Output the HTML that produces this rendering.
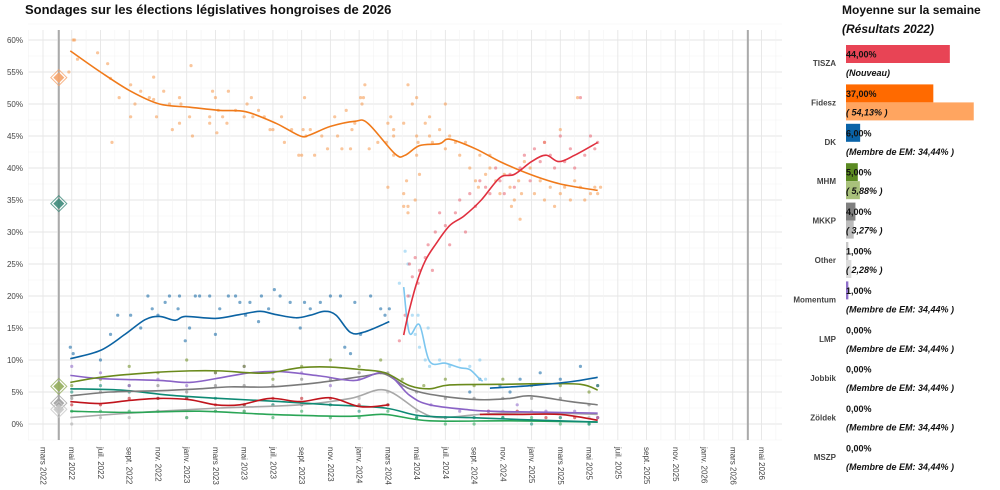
<!DOCTYPE html>
<html><head><meta charset="utf-8"><style>
html,body{margin:0;padding:0;background:#fff;}
svg{display:block;font-family:"Liberation Sans",Arial,sans-serif;}
</style></head><body>
<svg id="chart" width="1000" height="490" viewBox="0 0 1000 490">
<text x="25" y="14" font-size="13" font-weight="bold" fill="#111">Sondages sur les élections législatives hongroises de 2026</text>
<g id="grid"></g>
<g id="axes"></g>
<g id="dots"></g>
<g id="lines"></g>
<g id="marks"></g>
<g id="panel">
<text x="842" y="14" font-size="12" font-weight="bold" fill="#111">Moyenne sur la semaine</text>
<text x="842" y="33" font-size="12" font-weight="bold" font-style="italic" fill="#111">(Résultats 2022)</text>
</g>
</svg>
<script>
// ---- data (x in months since 1 March 2022, y in %) ----
const yTicks=[0,5,10,15,20,25,30,35,40,45,50,55,60];
const xTickMonths=[0,2,4,6,8,10,12,14,16,18,20,22,24,26,28,30,32,34,36,38,40,42,44,46,48,50];
const xTickLabels=["mars 2022","mai 2022","juil. 2022","sept. 2022","nov. 2022","janv. 2023","mars 2023","mai 2023","juil. 2023","sept. 2023","nov. 2023","janv. 2024","mars 2024","mai 2024","juil. 2024","sept. 2024","nov. 2024","janv. 2025","mars 2025","mai 2025","juil. 2025","sept. 2025","nov. 2025","janv. 2026","mars 2026","mai 2026"];
const electionMonths=[1.1,49.05];

const fideszLine=[[1.9,58.3],[4.0,55],[6.1,52],[8.1,50],[10.2,49.5],[12.3,49],[14.1,48.8],[16.2,47],[17.9,45],[18.6,45.2],[20.0,46.5],[21.7,47.3],[22.6,47],[24.5,42.2],[25.2,42],[26.2,43.5],[27.6,43.8],[28.3,44.5],[30.1,43],[31.8,41],[33.9,39],[36.0,37.5],[38.6,36.5]];
const tiszaLine=[[25.1,13.9],[25.4,17],[26.0,22],[26.6,25.5],[27.3,28],[28.3,31],[29.3,32.5],[30.5,35],[31.8,38.5],[32.8,39],[34.0,41],[35.0,42],[35.9,41],[37.0,42],[38.6,44]];
const dkLine=[[1.9,10.2],[4.0,11.5],[5.7,14],[7.1,16.3],[8.1,16.8],[9.2,16.2],[9.9,16.8],[12.0,16.5],[13.7,17.1],[15.1,17.6],[16.2,17.1],[17.6,16.6],[18.6,17.0],[19.6,17.6],[20.4,17.0],[21.4,14.3],[22.4,14.4],[24.1,16]];
const dk2Line=[[31.1,5.6],[34.0,6],[36.7,6.6],[38.6,7.3]];
const lightBlueLine=[[25.1,21.4],[25.5,14.2],[26.2,15.5],[26.9,9.8],[28.0,9.5],[29.0,8.8],[29.7,8.5],[30.4,7],[30.6,6.7]];
const mhmLine=[[1.9,6.5],[4.0,7.3],[7.4,8],[10.2,8.3],[12.3,8.3],[14.4,8],[15.8,8],[17.9,8.8],[20.0,8.9],[22.1,8.5],[23.8,8],[25.5,6],[26.9,5.5],[28.3,6.1],[31.8,6.2],[34.6,6.3],[37.4,6.2],[38.6,5.3]];
const momentumLine=[[1.9,7.6],[4.0,7.1],[8.1,6.8],[10.2,6.5],[12.3,7.2],[14.4,8],[16.5,8.2],[19.3,7.5],[21.7,6.8],[23.8,8],[25.5,4.5],[26.9,3],[29.7,2.2],[31.1,2],[33.2,1.9],[38.6,1.7]];
const mkkpLine=[[1.9,4.4],[4.7,5],[8.1,5.2],[10.9,5.5],[13.0,5.8],[15.8,5.8],[19.3,6.5],[22.4,7.5],[23.8,7.8],[25.5,5.5],[27.6,4.4],[30.4,3.8],[32.5,4],[33.9,4.4],[36.7,3.5],[38.6,3]];
const jobbikLine=[[1.9,5.5],[5.4,5.3],[8.8,4.5],[12.3,4],[16.5,3.5],[20.0,3],[23.8,2.5],[26.2,1.3],[29.7,1],[33.2,0.7],[38.6,0.3]];
const zoldekLine=[[1.9,2],[6.1,1.8],[10.9,2],[15.8,1.5],[21.4,1.2],[23.8,1.5],[26.9,0.5],[32.5,0.5],[38.6,0.3]];
const mszpLine=[[1.9,3.5],[4.0,3.2],[6.1,3.7],[8.1,4],[10.2,3.8],[12.0,3],[13.7,3],[15.8,4],[17.9,3.5],[20.0,4.1],[22.1,2.7],[24.1,3]];
const mszp2Line=[[30.4,1.5],[33.2,1.5],[36.0,1.5],[38.6,0.6]];
const otherLine=[[1.9,1],[4.7,1.5],[8.1,2],[12.3,2.5],[17.9,3],[21.4,4],[23.8,5.3],[26.2,2],[27.6,1],[30.4,1.5],[33.9,1.8],[38.6,1.5]];

const fideszDotX=[1.8,2.1,2.2,2.4,3.8,4.5,4.7,4.8,5.3,6.1,6.1,6.4,6.8,7.4,7.7,7.7,7.9,8.4,8.8,9.0,9.5,9.5,9.6,10.2,10.3,10.4,11.6,11.6,11.8,12.0,12.1,12.2,12.5,12.8,12.9,13.4,14.0,14.2,14.5,14.6,15.0,15.4,15.8,16.0,16.6,16.8,17.3,17.8,18.0,18.1,18.2,18.3,18.6,18.9,19.4,19.8,20.3,20.5,20.8,21.1,21.4,21.5,21.7,22.1,22.2,22.3,22.4,22.7,23.3,23.9,24.0,24.0,24.2,24.4,24.4,24.4,25.1,25.1,25.1,25.3,25.4,25.4,25.4,25.7,25.9,26.0,26.0,26.0,26.1,26.2,26.6,26.9,27.1,27.6,28.0,28.3,28.7,29.0,29.7,30.1,30.3,30.4,30.8,31.1,31.5,31.8,32.1,32.5,32.6,32.8,33.1,33.2,33.3,33.9,34.2,34.6,34.9,35.3,35.6,36.0,36.3,36.7,37.0,37.2,37.4,37.7,38.1,38.4,38.6,38.8,26.9,28.0,29.4,31.1,33.5,34.9,36.0];
const fideszDotY=[55,60,60,57,58,56.3,54,44,51,53,48,50,52,51,54.2,50.7,48,52,50,46,47,51,50,48,56,45,48,47,52,51,45.5,49,48,47,52,49,48,50,51,48,49,48,46,46,48,44,46,42,42,46,51,45,46,42,45,43,48,45,43,49,43,46,47,51,50,51,53,43,44,44,37,47,48,46,45,42,47,36,34,38,53,34,33,50,35,45,42,51,44,39,47,45,44,46,43,45,44,42,40,38,37,42,39,40,38,36,39,37,34,35,38,32,36,40,36,38,35,37,34,36,37,35,38,51,37,35,36,37,36,37,48,50,44,42,41,44,46];
const tiszaDotX=[24.8,25.2,25.4,25.5,25.7,25.9,26.1,26.2,26.6,26.8,27.1,27.3,27.6,28.0,28.3,28.7,29.0,29.4,29.7,30.1,30.4,30.8,31.1,31.5,31.8,32.1,32.5,32.8,33.2,33.5,33.9,34.2,34.6,34.9,35.3,35.6,36.0,36.3,36.7,37.0,37.4,37.7,38.1,38.4,38.6];
const tiszaDotY=[13,17,20,25,23,26,22,24,26,28,24,30,33,31,28,33,35,30,36,34,38,37,36,40,38,36,39,37,40,42,38,43,41,44,42,40,45,41,43,40,51,42,45,43,44];
const dkDotX=[1.9,2.1,4.0,4.7,5.2,6.1,6.8,7.3,7.6,8.0,8.5,8.8,9.4,9.5,9.9,10.2,10.6,10.9,11.6,12.0,12.3,12.9,13.4,13.7,14.1,14.4,15.0,15.2,15.7,16.1,16.5,17.2,17.9,18.2,18.6,19.3,20.0,20.7,21.0,21.4,21.7,22.1,22.8,23.5,23.8,24.1,30.4,31.8,33.2,34.6,36.0,37.4,38.6,29.7,32.5];
const dkDotY=[12,11,10,14,17,17,15,20,18,17,19,20,18,20,13,15,20,20,20,14,18,20,20,19,17,19,16,20,18,21,20,19,15,19,18,19,20,20,12,11,19,14,20,18,17,18,7,6,7,8,7,9,6,5,5];
const lbDotX=[24.8,25.2,25.4,25.5,25.7,25.9,26.1,26.2,26.6,26.8,26.9,27.6,28.3,29.0,29.7,30.4,30.8];
const lbDotY=[22,27,25,20,17,14,17,12,10,15,9,10,9,10,9,10,7];
const mhmDotX=[2,4,6,8,10,12,14,16,18,20,22,23.5,25,26.5,28,30,32,34,36,38,38.6];
const mhmDotY=[6,7,9,8,10,8,9,7,9,10,9,10,7,6,7,6,7,6,6,5,6];
const momDotX=[2,4,6,8,10,12,14,16,18,20,22,23.5,25,27,29,31,33,35,37,38.6];
const momDotY=[9,8,6,7,6,8,9,8,8,6,7,8,6,3,2,2,3,2,2,1];
const mkkpDotX=[2,4,6,8,10,12,14,16,18,20,22,24,26,28,30,32,34,36,38];
const mkkpDotY=[4,5,6,6,5,6,6,6,7,7,8,8,5,4,4,4,4,4,3];
const jobDotX=[2,4,6,8,10,12,14,16,18,20,22,24,26,28,30,32,34,36,38];
const jobDotY=[5,6,5,4,4,4,3,3,3,3,2,3,1,1,1,1,0,1,0];
const zolDotX=[2,4,6,8,10,12,14,16,18,20,22,24,26,28,30,32,34,36,38];
const zolDotY=[2,2,2,2,1,2,2,1,2,1,1,2,1,0,0,1,1,0,0];
const mszpDotX=[2,4,6,8,10,12,14,16,18,20,22,24,31,33,35,37,38.6];
const mszpDotY=[3,3,4,4,4,3,3,4,4,4,3,3,2,2,1,1,1];
const othDotX=[2,4,6,8,10,12,14,16,18,20,22,24,26,28,30,32,34,36,38];
const othDotY=[0,1,1,2,1,2,2,3,3,3,4,5,2,1,1,2,2,1,1];

const results2022Names=["Fidesz","EM","MHM","MKKP","Other"];
const results2022Values=[54.13,34.44,5.88,3.27,2.28];

const panelParties=["TISZA","Fidesz","DK","MHM","MKKP","Other","Momentum","LMP","Jobbik","Zöldek","MSZP"];
const panelCurrent=[44,37,6,5,4,1,1,0,0,0,0];
const panelPrevious=[null,54.13,null,5.88,3.27,2.28,null,null,null,null,null];
const panelNotes=["(Nouveau)","( 54,13% )","(Membre de EM: 34,44% )","( 5,88% )","( 3,27% )","( 2,28% )","(Membre de EM: 34,44% )","(Membre de EM: 34,44% )","(Membre de EM: 34,44% )","(Membre de EM: 34,44% )","(Membre de EM: 34,44% )"];

// ---- styles ----
const partyColor={Fidesz:"#f07a1a",TISZA:"#e0303f",DK:"#0b63a3",LB:"#7cc6ef",MHM:"#6a8a1c",Momentum:"#8a63c6",MKKP:"#7a7a7a",Jobbik:"#0e8a74",Zoldek:"#2aa556",MSZP:"#c0141c",Other:"#a8a8a8",EM:"#3d8a7a"};
const NS="http://www.w3.org/2000/svg";
const X0=43,XS=14.37,Y0=424,YS=6.4;
const xs=m=>X0+m*XS, ys=v=>Y0-v*YS;
function el(tag,attrs,parent){const e=document.createElementNS(NS,tag);for(const k in attrs)e.setAttribute(k,attrs[k]);parent.appendChild(e);return e;}

const grid=document.getElementById('grid');
// minor horizontal
for(let v=-2.5;v<=62.5;v+=2.5){const l=el('line',{x1:28,x2:782,y1:ys(v),y2:ys(v),stroke:(v%5===0)?"#e6e6e6":"#f3f3f3","stroke-width":(v%5===0)?0.9:0.6},grid);

}
for(let m=-1;m<=51;m++){const l=el('line',{x1:xs(m),x2:xs(m),y1:30,y2:440,stroke:(m%2===0)?"#e6e6e6":"#f3f3f3","stroke-width":(m%2===0)?0.9:0.6},grid);

}

const axes=document.getElementById('axes');
yTicks.forEach(v=>{const t=el('text',{x:23,y:ys(v)+3,"font-size":8,"text-anchor":"end",fill:"#444"},axes);t.textContent=v+"%";

});
xTickMonths.forEach((m,i)=>{const x=xs(m);const t=el('text',{x:x,y:447,"font-size":8,fill:"#444","dominant-baseline":"central",transform:`rotate(90 ${x} 447)`},axes);t.textContent=xTickLabels[i];

});
electionMonths.forEach(m=>{const l=el('line',{x1:xs(m),x2:xs(m),y1:30,y2:440,stroke:"#aaa","stroke-width":2},axes);

});

const dots=document.getElementById('dots');
function drawDots(X,Y,c,name){X.forEach((m,i)=>{const d=el('circle',{cx:xs(m),cy:ys(Y[i]),r:1.6,fill:c,"fill-opacity":0.55},dots);

});}
drawDots(othDotX,othDotY,partyColor.Other,'other');
drawDots(zolDotX,zolDotY,partyColor.Zoldek,'zoldek');
drawDots(jobDotX,jobDotY,partyColor.Jobbik,'jobbik');
drawDots(mszpDotX,mszpDotY,partyColor.MSZP,'mszp');
drawDots(mkkpDotX,mkkpDotY,partyColor.MKKP,'mkkp');
drawDots(momDotX,momDotY,partyColor.Momentum,'momentum');
drawDots(mhmDotX,mhmDotY,partyColor.MHM,'mhm');
drawDots(lbDotX,lbDotY,partyColor.LB,'light-blue');
drawDots(dkDotX,dkDotY,partyColor.DK,'dk');
drawDots(fideszDotX,fideszDotY,"#f5984a",'fidesz');
drawDots(tiszaDotX,tiszaDotY,"#e86070",'tisza');

const lines=document.getElementById('lines');
function smooth(pts){const p=pts.map(a=>[xs(a[0]),ys(a[1])]);let d=`M${p[0][0]},${p[0][1]}`;
for(let i=0;i<p.length-1;i++){const p0=p[i-1]||p[i],p1=p[i],p2=p[i+1],p3=p[i+2]||p2;
const c1=[p1[0]+(p2[0]-p0[0])/6,p1[1]+(p2[1]-p0[1])/6],c2=[p2[0]-(p3[0]-p1[0])/6,p2[1]-(p3[1]-p1[1])/6];
d+=` C${c1[0]},${c1[1]} ${c2[0]},${c2[1]} ${p2[0]},${p2[1]}`;}return d;}
function drawLine(pts,c,name){const l=el('path',{d:smooth(pts),fill:"none",stroke:c,"stroke-width":1.6,"stroke-linejoin":"round"},lines);

}
drawLine(otherLine,partyColor.Other,'other');
drawLine(zoldekLine,partyColor.Zoldek,'zoldek');
drawLine(jobbikLine,partyColor.Jobbik,'jobbik');
drawLine(mszpLine,partyColor.MSZP,'mszp');
drawLine(mszp2Line,partyColor.MSZP,'mszp-late');
drawLine(mkkpLine,partyColor.MKKP,'mkkp');
drawLine(momentumLine,partyColor.Momentum,'momentum');
drawLine(mhmLine,partyColor.MHM,'mhm');
drawLine(lightBlueLine,partyColor.LB,'light-blue');
drawLine(dkLine,partyColor.DK,'dk');
drawLine(dk2Line,partyColor.DK,'dk-late');
drawLine(fideszLine,partyColor.Fidesz,'fidesz');
drawLine(tiszaLine,partyColor.TISZA,'tisza');

const marks=document.getElementById('marks');
const resColors={Fidesz:"#f5a36a",EM:"#3d8a7a",MHM:"#93ad5c",MKKP:"#a0a0a0",Other:"#c8c8c8"};
results2022Names.forEach((n,i)=>{const x=xs(electionMonths[0]),y=ys(results2022Values[i]);
const o=el('path',{d:`M${x},${y-8} L${x+8},${y} L${x},${y+8} L${x-8},${y} Z`,fill:"none",stroke:resColors[n],"stroke-width":1,"stroke-opacity":0.8},marks);


const d=el('path',{d:`M${x},${y-5.5} L${x+5.5},${y} L${x},${y+5.5} L${x-5.5},${y} Z`,fill:resColors[n],"fill-opacity":0.9},marks);

});

// ---- right panel ----
const panel=document.getElementById('panel');
const BX=846,BS=2.36,ROW0=45,PITCH=39.4;
const barCur={TISZA:"#e84455",Fidesz:"#ff6a00",DK:"#0a63a8",MHM:"#5b8a22",MKKP:"#808080",Other:"#c8c8c8",Momentum:"#8e6fc9"};
const barPrev={Fidesz:"#ffa560",MHM:"#a9c17b",MKKP:"#bcbcbc",Other:"#dcdcdc"};
panelParties.forEach((p,i)=>{const top=ROW0+i*PITCH;
const lab=el('text',{x:836,y:top+21,"font-size":8,"font-weight":"bold","text-anchor":"end",fill:"#444"},panel);lab.textContent=p;


if(panelCurrent[i]>0){const b=el('rect',{x:BX,y:top,width:panelCurrent[i]*BS,height:18,fill:barCur[p]},panel);

}
if(panelPrevious[i]!==null){const b2=el('rect',{x:BX,y:top+18,width:panelPrevious[i]*BS,height:18,fill:barPrev[p]},panel);

}
const v=el('text',{x:BX,y:top+12.5,"font-size":9,"font-weight":"bold",fill:"#111"},panel);v.textContent=panelCurrent[i].toFixed(2).replace('.',',')+"%";


const n=el('text',{x:BX,y:top+31,"font-size":9,"font-weight":"bold","font-style":"italic",fill:"#111"},panel);n.textContent=panelNotes[i];

});
</script>
</body></html>
